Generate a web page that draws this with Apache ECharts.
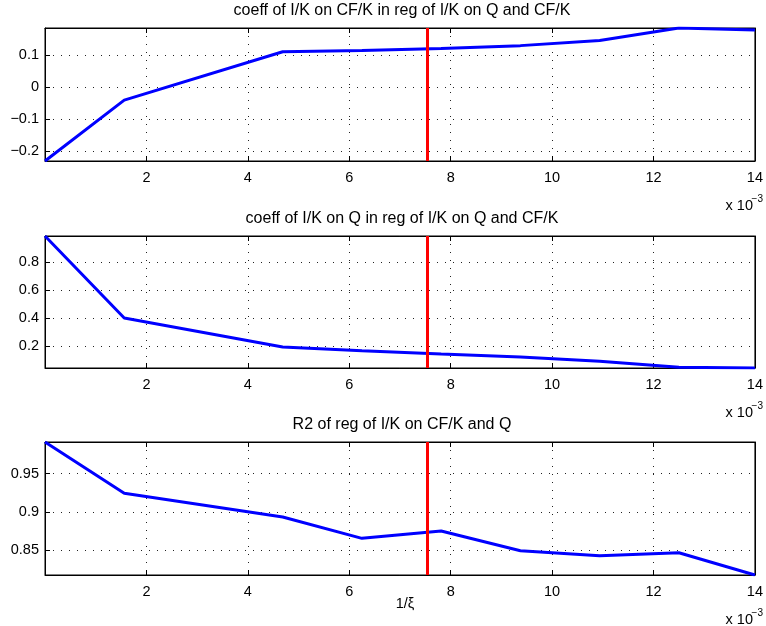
<!DOCTYPE html>
<html>
<head>
<meta charset="utf-8">
<script src="https://cdn.jsdelivr.net/npm/echarts@6/dist/echarts.min.js"></script>
<style>
  html, body { margin: 0; padding: 0; background: #fff; }
  #chart { width: 766px; height: 626px; }
</style>
</head>
<body>
<div id="chart"></div>
<script>
// 1/xi, in units of 1e-3
const invXi = [0, 1.5625, 4.6875, 6.25, 7.8125, 9.375, 10.9375, 12.5, 14];
// coefficient of I/K on CF/K (regression of I/K on Q and CF/K)
const coefCF = [-0.231, -0.041, 0.110, 0.114, 0.120, 0.129, 0.145, 0.184, 0.178];
// coefficient of I/K on Q (regression of I/K on Q and CF/K)
const coefQ = [0.988, 0.402, 0.195, 0.169, 0.145, 0.123, 0.094, 0.051, 0.045];
// R2 of regression of I/K on CF/K and Q
const rSquared = [0.991, 0.9244, 0.8935, 0.8657, 0.8753, 0.8495, 0.8430, 0.8469, 0.818];
// vertical reference marker on 1/xi (units of 1e-3)
const markerX = 7.54;
// panel titles
const titles = [
  'coeff of I/K on CF/K in reg of I/K on Q and CF/K',
  'coeff of I/K on Q in reg of I/K on Q and CF/K',
  'R2 of reg of I/K on CF/K and Q'
];
const xTickStep = 2;
const xMin = 0, xMax = 14;

const FONT = 'Liberation Sans, Arial, Helvetica, sans-serif';
const TICK_SIZE = 14.5;
const TITLE_SIZE = 16;
const panels = [
  { top: 28, height: 133, data: coefCF, split: 5 },
  { top: 236, height: 132, data: coefQ, split: 5 },
  { top: 442, height: 133, data: rSquared, split: 4 }
];
const gridLeft = 45, gridRight = 7;
const plotCenter = (gridLeft + (766 - gridRight)) / 2;

const minus = v => String(v).replace('-', '\u2212');
const dotted = { color: '#222', width: 1, type: [1, 7] };

const grids = [], xAxes = [], yAxes = [], series = [], graphics = [];
panels.forEach((p, i) => {
  grids.push({
    left: gridLeft, right: gridRight, top: p.top, height: p.height,
    show: true, borderColor: '#000', borderWidth: 1, backgroundColor: '#fff'
  });
  // bottom x axis with labels
  xAxes.push({
    type: 'value', gridIndex: i, min: xMin, max: xMax, interval: xTickStep,
    position: 'bottom',
    axisLine: { show: true, onZero: false, lineStyle: { color: '#000', width: 1 } },
    axisTick: { show: true, inside: true, length: 5, lineStyle: { color: '#000' } },
    axisLabel: { show: true, showMinLabel: false, margin: 9, color: '#000', fontSize: TICK_SIZE, fontFamily: FONT },
    splitLine: { show: true, lineStyle: dotted }
  });
  // top x axis: ticks only
  xAxes.push({
    type: 'value', gridIndex: i, min: xMin, max: xMax, interval: xTickStep,
    position: 'top',
    axisLine: { show: true, onZero: false, lineStyle: { color: '#000', width: 1 } },
    axisTick: { show: true, inside: true, length: 5, lineStyle: { color: '#000' } },
    axisLabel: { show: false },
    splitLine: { show: false }
  });
  // left y axis with labels
  yAxes.push({
    type: 'value', gridIndex: i, min: 'dataMin', max: 'dataMax', splitNumber: p.split,
    position: 'left',
    axisLine: { show: true, onZero: false, lineStyle: { color: '#000', width: 1 } },
    axisTick: { show: true, inside: true, length: 5, lineStyle: { color: '#000' } },
    axisLabel: {
      show: true, showMinLabel: false, showMaxLabel: false, margin: 6,
      color: '#000', fontSize: TICK_SIZE, fontFamily: FONT, formatter: minus
    },
    splitLine: { show: true, showMinLine: false, showMaxLine: false, lineStyle: dotted }
  });
  // right y axis: ticks only
  yAxes.push({
    type: 'value', gridIndex: i, min: 'dataMin', max: 'dataMax', splitNumber: p.split,
    position: 'right',
    axisLine: { show: true, onZero: false, lineStyle: { color: '#000', width: 1 } },
    axisTick: { show: true, inside: true, length: 5, lineStyle: { color: '#000' } },
    axisLabel: { show: false },
    splitLine: { show: false }
  });
  series.push({
    type: 'line', xAxisIndex: 2 * i, yAxisIndex: 2 * i,
    data: invXi.map((x, k) => [x, p.data[k]]),
    symbol: 'none', smooth: false, silent: true,
    lineStyle: { color: '#0000ff', width: 3 },
    markLine: {
      silent: true, symbol: 'none', animation: false,
      label: { show: false },
      lineStyle: { color: '#ff0000', width: 3, type: 'solid' },
      data: [{ xAxis: markerX }]
    },
    z: 3
  });
  // panel title
  graphics.push({
    type: 'text', x: plotCenter, y: p.top - 17,
    style: { text: titles[i], fill: '#000', font: TITLE_SIZE + 'px ' + FONT, textAlign: 'center', textVerticalAlign: 'middle' }
  });
  // axis multiplier
  const bottom = p.top + p.height;
  graphics.push({
    type: 'text', x: 753, y: bottom + 45,
    style: { text: 'x 10', fill: '#000', font: TICK_SIZE + 'px ' + FONT, textAlign: 'right', textVerticalAlign: 'middle' }
  });
  graphics.push({
    type: 'text', x: 763, y: bottom + 38,
    style: { text: '\u22123', fill: '#000', font: '10px ' + FONT, textAlign: 'right', textVerticalAlign: 'middle' }
  });
});

// x axis label of the bottom panel
graphics.push({
  type: 'text', x: 405, y: 604,
  style: { text: '1/\u03BE', fill: '#000', font: TICK_SIZE + 'px ' + FONT, textAlign: 'center', textVerticalAlign: 'middle' }
});

const chart = echarts.init(document.getElementById('chart'), null, { renderer: 'canvas' });
chart.setOption({
  animation: false,
  backgroundColor: '#fff',
  grid: grids,
  xAxis: xAxes,
  yAxis: yAxes,
  series: series,
  graphic: graphics
});
</script>
</body>
</html>
